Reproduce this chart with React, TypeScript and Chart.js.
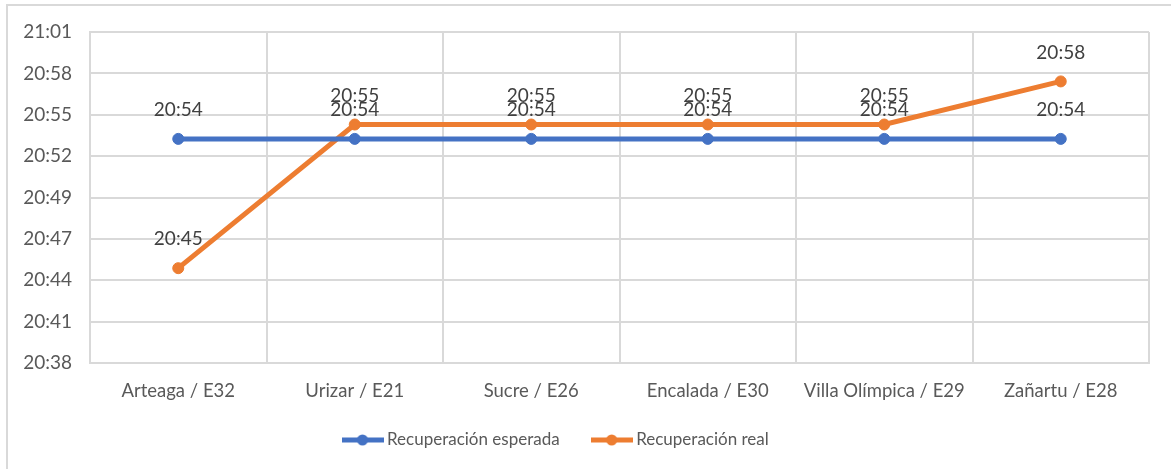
import React, { useEffect, useRef } from 'react';
import { Chart, registerables } from 'chart.js';

Chart.register(...registerables);

const categories = [
  'Arteaga / E32',
  'Urizar / E21',
  'Sucre / E26',
  'Encalada / E30',
  'Villa Olímpica / E29',
  'Zañartu / E28',
];
const expectedTimes = ['20:54', '20:54', '20:54', '20:54', '20:54', '20:54'];
const realTimes = ['20:45', '20:55', '20:55', '20:55', '20:55', '20:58'];
const seriesNames = ['Recuperación esperada', 'Recuperación real'];
const seriesColors = ['#4472C4', '#ED7D31'];
const yTickLabels = ['20:38', '20:41', '20:44', '20:47', '20:49', '20:52', '20:55', '20:58', '21:01'];
const yMinMinutes = 1238.4; // 0.860 day
const yStepMinutes = 2.88; // 0.002 day

const toMinutes = (s: string) => {
  const [h, m] = s.split(':').map(Number);
  return h * 60 + m;
};

const W = 1171;
const H = 469;
const PLOT_LEFT = 90;
const PLOT_BOTTOM = 363;
const FONT = 'Lato, "Open Sans", sans-serif';

function makeSymbol(color: string) {
  const c = document.createElement('canvas');
  c.width = 42;
  c.height = 12;
  const ctx = c.getContext('2d')!;
  ctx.strokeStyle = color;
  ctx.lineWidth = 5;
  ctx.beginPath();
  ctx.moveTo(0, 6);
  ctx.lineTo(42, 6);
  ctx.stroke();
  ctx.fillStyle = color;
  ctx.beginPath();
  ctx.arc(21, 6, 5.5, 0, Math.PI * 2);
  ctx.fill();
  return c;
}

const framePlugin = {
  id: 'frame',
  beforeDraw(chart: any) {
    const ctx = chart.ctx;
    ctx.save();
    ctx.fillStyle = '#ffffff';
    ctx.fillRect(0, 0, W, H);
    ctx.strokeStyle = '#d9d9d9';
    ctx.lineWidth = 2;
    ctx.beginPath();
    ctx.moveTo(7, H);
    ctx.lineTo(7, 5);
    ctx.lineTo(W, 5);
    ctx.stroke();
    ctx.restore();
  },
};

const dataLabelPlugin = {
  id: 'dataLabels',
  afterDatasetsDraw(chart: any) {
    const ctx = chart.ctx;
    const labelSets = [expectedTimes, realTimes];
    ctx.save();
    ctx.font = `19px ${FONT}`;
    ctx.fillStyle = '#404040';
    ctx.textAlign = 'center';
    ctx.textBaseline = 'middle';
    chart.data.datasets.forEach((_: any, i: number) => {
      const meta = chart.getDatasetMeta(i);
      meta.data.forEach((pt: any, j: number) => {
        ctx.fillText(labelSets[i][j], pt.x, pt.y - 29);
      });
    });
    ctx.restore();
  },
};

const LEGEND_PAD = 36;
const LEGEND_FONT = 17;
const legendPlacePlugin = {
  id: 'legendPlace',
  afterLayout(chart: any) {
    const lg = chart.legend;
    if (!lg) return;
    lg.left = 346.5 - LEGEND_PAD;
    lg.right = W;
    lg.top = 440 - LEGEND_PAD - LEGEND_FONT / 2;
  },
};

export default function App() {
  const ref = useRef<HTMLCanvasElement>(null);

  useEffect(() => {
    let chart: Chart | null = null;
    let cancelled = false;
    const build = () => {
      if (cancelled || !ref.current) return;
      const symbols = seriesColors.map(makeSymbol);
      chart = new Chart(ref.current, {
        type: 'line',
        data: {
          labels: categories,
          datasets: [
            {
              label: seriesNames[0],
              data: expectedTimes.map(toMinutes),
              borderColor: seriesColors[0],
              backgroundColor: seriesColors[0],
              borderWidth: 5,
              pointRadius: 5.5,
              pointBorderWidth: 1,
              pointBackgroundColor: seriesColors[0],
              pointBorderColor: seriesColors[0],
              tension: 0,
            },
            {
              label: seriesNames[1],
              data: realTimes.map(toMinutes),
              borderColor: seriesColors[1],
              backgroundColor: seriesColors[1],
              borderWidth: 5,
              pointRadius: 5.5,
              pointBorderWidth: 1,
              pointBackgroundColor: seriesColors[1],
              pointBorderColor: seriesColors[1],
              tension: 0,
            },
          ],
        },
        options: {
          responsive: false,
          animation: false,
          devicePixelRatio: 1,
          layout: { padding: { left: 10, right: W - 1149, top: 32, bottom: 0 } },
          scales: {
            x: {
              offset: true,
              grid: { offset: true, color: '#d9d9d9', lineWidth: 2, drawTicks: false },
              border: { color: '#d9d9d9', width: 2 },
              ticks: { color: '#595959', font: { family: FONT, size: 18.5 }, padding: 17, maxRotation: 0, autoSkip: false },
              afterFit(scale: any) {
                const lh = scale.chart.legend ? scale.chart.legend.height : 0;
                scale.height = Math.max(10, H - PLOT_BOTTOM - lh);
              },
            },
            y: {
              min: yMinMinutes,
              max: yMinMinutes + (yTickLabels.length - 1) * yStepMinutes,
              grid: { color: '#d9d9d9', lineWidth: 2, drawTicks: false },
              border: { display: true, color: '#d9d9d9', width: 2 },
              ticks: {
                color: '#595959',
                font: { family: FONT, size: 19 },
                padding: 18,
                callback: (_v: any, i: number) => yTickLabels[i],
              },
              afterBuildTicks(scale: any) {
                scale.ticks = yTickLabels.map((_, i) => ({ value: yMinMinutes + i * yStepMinutes }));
              },
              afterFit(scale: any) {
                scale.width = PLOT_LEFT - 10;
              },
            },
          },
          plugins: {
            tooltip: { enabled: false },
            legend: {
              display: true,
              position: 'bottom',
              align: 'start',
              labels: {
                usePointStyle: true,
                pointStyleWidth: 32,
                boxHeight: LEGEND_FONT,
                padding: LEGEND_PAD,
                color: '#595959',
                font: { family: FONT, size: LEGEND_FONT },
                generateLabels(ch: any) {
                  const items = (Chart as any).defaults.plugins.legend.labels.generateLabels(ch);
                  return items.map((it: any, i: number) => ({ ...it, pointStyle: symbols[i] }));
                },
              },
            },
          },
        },
        plugins: [framePlugin, dataLabelPlugin, legendPlacePlugin],
      } as any);
    };
    if ((document as any).fonts && (document as any).fonts.load) {
      Promise.all([
        (document as any).fonts.load(`18px Lato`),
      ]).then(build, build);
    } else {
      build();
    }
    return () => {
      cancelled = true;
      if (chart) chart.destroy();
    };
  }, []);

  return (
    <div style={{ position: 'fixed', left: 0, top: 0, width: W, height: H, background: '#fff' }}>
      <canvas ref={ref} width={W} height={H} style={{ display: 'block' }} />
    </div>
  );
}
